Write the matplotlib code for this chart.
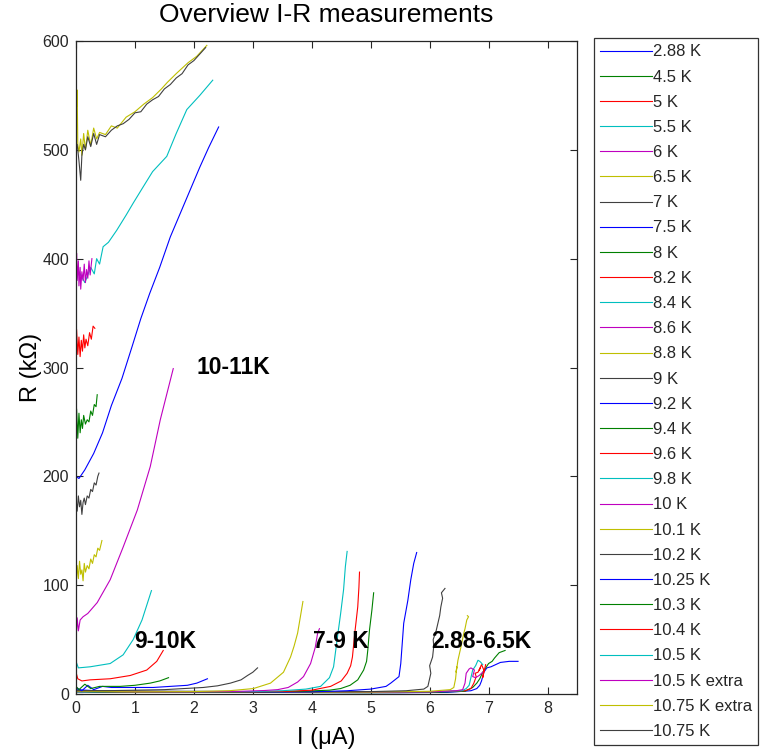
import matplotlib
matplotlib.use("Agg")
import matplotlib.pyplot as plt

plt.rcParams['font.family'] = ['Liberation Sans', 'DejaVu Sans']

# ---------------- data (I in uA, R in kOhm) ----------------
labels = ["2.88 K", "4.5 K", "5 K", "5.5 K", "6 K", "6.5 K", "7 K", "7.5 K", "8 K",
          "8.2 K", "8.4 K", "8.6 K", "8.8 K", "9 K", "9.2 K", "9.4 K", "9.6 K", "9.8 K",
          "10 K", "10.1 K", "10.2 K", "10.25 K", "10.3 K", "10.4 K", "10.5 K",
          "10.5 K extra", "10.75 K extra", "10.75 K"]

I_288 = [0.0, 0.5, 1.5, 2.5, 3.5, 4.5, 5.5, 6.3, 6.7, 6.8, 6.85, 6.88, 6.92, 6.97, 7.04, 7.12, 7.2, 7.35, 7.5]
R_288 = [4, 2.5, 2, 1.8, 1.5, 1.3, 1.2, 1.5, 3, 5, 8, 12, 20, 24, 25, 27, 29, 30, 30]
I_45 = [0.0, 1, 2, 3, 4, 5, 6, 6.6, 6.73, 6.8, 6.85, 6.9, 6.95, 7.0, 7.06, 7.1, 7.18, 7.23, 7.28]
R_45 = [3, 2, 1.8, 1.5, 1.3, 1.2, 1.5, 2.5, 6, 10, 14, 20, 24, 28, 30, 33, 38, 39, 40]
I_5 = [0.0, 1, 2, 3, 4, 5, 6, 6.6, 6.7, 6.75, 6.79, 6.77, 6.82, 6.86, 6.84, 6.88, 6.92, 6.9, 6.95]
R_5 = [3, 2, 2, 2, 1.8, 1.7, 2, 3, 5, 10, 16, 19, 20, 24, 22, 27, 22, 15, 27]
I_55 = [0, 1, 2, 3, 4, 5, 6, 6.55, 6.62, 6.67, 6.7, 6.73, 6.78, 6.82, 6.85, 6.87, 6.9]
R_55 = [3, 2.5, 2.2, 2, 1.8, 1.7, 2, 3, 5, 8, 15, 22, 26, 31, 30, 29, 27]
I_6 = [0, 1, 2, 3, 4, 5, 6, 6.45, 6.56, 6.6, 6.62, 6.67, 6.7, 6.76, 6.73, 6.78, 6.84, 6.9]
R_6 = [3, 2.5, 2.2, 2, 1.8, 1.7, 2, 3, 4, 10, 19, 23, 24, 22, 16, 15, 17, 20]
I_65 = [0, 1, 2, 3, 4, 5, 6, 6.35, 6.41, 6.44, 6.46, 6.45, 6.48, 6.53, 6.58, 6.6, 6.63, 6.66, 6.64]
R_65 = [3, 2.5, 2, 2, 1.8, 1.8, 2.5, 4, 6, 14, 25, 20, 31, 43, 56, 60, 68, 71, 72]
I_7 = [0, 1, 2, 3, 4, 5, 5.6, 5.9, 5.97, 6.02, 6.0, 6.05, 6.07, 6.06, 6.11, 6.14, 6.17, 6.19, 6.22, 6.2, 6.26]
R_7 = [3, 2.5, 2.5, 2.2, 2, 2.2, 3, 4.5, 7, 19, 26, 34, 44, 50, 58, 65, 72, 80, 88, 93, 97]
I_75 = [0, 1, 2, 3, 4, 4.6, 5.0, 5.26, 5.34, 5.48, 5.51, 5.56, 5.63, 5.68, 5.73, 5.78]
R_75 = [2, 1.5, 1.5, 1.6, 2, 3, 4.5, 7, 10, 16, 28, 65, 86, 105, 120, 130]
I_8 = [0, 1, 2, 3, 3.8, 4.3, 4.49, 4.65, 4.78, 4.88, 4.93, 4.95, 4.98, 5.02, 5.05]
R_8 = [2, 1.5, 1.5, 1.8, 2.5, 3.5, 5, 8, 13, 22, 30, 40, 59, 77, 93]
I_82 = [0, 1, 2, 3, 3.6, 4.0, 4.32, 4.5, 4.6, 4.66, 4.69, 4.73, 4.78, 4.8, 4.81]
R_82 = [2.5, 2, 2, 2, 2.5, 3.5, 7, 12, 19, 26, 34, 56, 80, 98, 112]
I_84 = [0, 1, 2, 3, 3.5, 3.9, 4.15, 4.3, 4.37, 4.43, 4.49, 4.54, 4.57, 4.6]
R_84 = [2.5, 2, 2, 2.2, 3, 4.5, 7, 15, 25, 50, 74, 96, 117, 131]
I_86 = [0, 1, 2, 2.8, 3.2, 3.42, 3.6, 3.76, 3.86, 3.98, 4.06, 4.1, 4.13]
R_86 = [2.5, 2, 2, 2.5, 3.2, 4, 6, 11, 16, 28, 43, 56, 60]
I_88 = [0, 1, 2, 2.6, 3.01, 3.3, 3.52, 3.64, 3.7, 3.76, 3.81, 3.85]
R_88 = [2.5, 2, 2.2, 3, 5, 10, 20, 34, 44, 56, 72, 85]
I_9 = [0, 0.5, 1, 1.5, 2.16, 2.4, 2.62, 2.8, 2.91, 3.0, 3.08]
R_9 = [3, 3, 3.5, 4, 6, 7.5, 10, 13, 17, 20, 24]
I_92 = [0, 0.1, 0.2, 0.3, 0.45, 0.6, 1.0, 1.31, 1.6, 1.89, 2.05, 2.23]
R_92 = [6, 3, 8, 4, 7, 6, 6, 6, 7, 8, 10, 14]
I_94 = [0, 0.05, 0.15, 0.25, 0.4, 0.75, 1.0, 1.26, 1.42, 1.57]
R_94 = [7, 4, 9, 5, 7, 7, 8, 10, 12, 15]
I_96 = [0, 0.03, 0.1, 0.24, 0.58, 0.92, 1.2, 1.37, 1.48]
R_96 = [20, 14, 12, 13, 14, 17, 22, 30, 40]
I_98 = [0, 0.04, 0.24, 0.58, 0.8, 0.97, 1.12, 1.28]
R_98 = [30, 24, 25, 28, 36, 50, 68, 95]
I_10 = [0, 0.02, 0.04, 0.07, 0.12, 0.2, 0.36, 0.58, 0.8, 1.04, 1.26, 1.43, 1.65]
R_10 = [50, 70, 58, 68, 71, 74, 84, 105, 135, 169, 209, 252, 299]
I_101 = [0, 0.02, 0.04, 0.06, 0.08, 0.1, 0.12, 0.14, 0.16, 0.19, 0.22, 0.25, 0.28, 0.31, 0.34, 0.37, 0.4, 0.44]
R_101 = [100, 118, 106, 122, 110, 114, 104, 120, 112, 118, 115, 124, 120, 128, 126, 134, 132, 141]
I_102 = [0, 0.02, 0.04, 0.06, 0.08, 0.1, 0.12, 0.14, 0.16, 0.19, 0.22, 0.25, 0.28, 0.31, 0.34, 0.37, 0.39]
R_102 = [180, 168, 182, 172, 178, 165, 176, 180, 174, 182, 180, 188, 186, 194, 192, 200, 203]
I_1025 = [0, 0.0, 0.05, 0.15, 0.3, 0.45, 0.6, 0.78, 0.95, 1.1, 1.25, 1.42, 1.6, 1.85, 2.1, 2.25, 2.42]
R_1025 = [95, 200, 198, 206, 221, 240, 265, 290, 319, 345, 368, 392, 420, 452, 484, 502, 521]
I_103 = [0, 0.01, 0.03, 0.05, 0.07, 0.09, 0.11, 0.13, 0.16, 0.19, 0.22, 0.25, 0.28, 0.31, 0.34, 0.36]
R_103 = [210, 262, 235, 258, 240, 252, 244, 256, 248, 252, 250, 260, 256, 266, 264, 275]
I_104 = [0, 0.01, 0.03, 0.05, 0.07, 0.09, 0.11, 0.13, 0.15, 0.17, 0.2, 0.23, 0.26, 0.29, 0.32]
R_104 = [300, 335, 312, 328, 310, 325, 315, 330, 318, 326, 320, 332, 326, 338, 336]
I_105 = [0.0, 0.0, 0.05, 0.15, 0.25, 0.31, 0.35, 0.40, 0.46, 0.55, 0.69, 0.85, 0.97, 1.14, 1.30, 1.54, 1.70, 1.88, 2.10, 2.32]
R_105 = [2, 380, 388, 378, 392, 386, 400, 395, 411, 415, 426, 440, 451, 466, 480, 494, 515, 537, 550, 564]
I_105x = [0, 0.01, 0.02, 0.04, 0.05, 0.07, 0.08, 0.1, 0.12, 0.14, 0.16, 0.18, 0.2, 0.22, 0.24, 0.27]
R_105x = [360, 405, 380, 398, 375, 392, 372, 388, 380, 395, 378, 390, 382, 398, 385, 400]
I_1075x = [0, 0.0, 0.01, 0.02, 0.03, 0.05, 0.08, 0.1, 0.13, 0.16, 0.2, 0.25, 0.3, 0.35, 0.4, 0.5, 0.6, 0.7,
           0.85, 1.0, 1.15, 1.3, 1.45, 1.55, 1.7, 1.9, 2.05, 2.22]
R_1075x = [500, 568, 540, 555, 505, 498, 510, 495, 515, 500, 518, 504, 520, 510, 516, 514, 522, 520,
           530, 535, 542, 548, 556, 562, 570, 580, 586, 596]
I_1075 = [0, 0.02, 0.05, 0.08, 0.1, 0.13, 0.16, 0.2, 0.25, 0.3, 0.35, 0.4, 0.5, 0.6, 0.7, 0.8, 0.9, 1.0,
          1.1, 1.2, 1.3, 1.4, 1.5, 1.6, 1.7, 1.8, 1.9, 2.0, 2.1, 2.2]
R_1075 = [500, 505, 490, 472, 495, 505, 500, 512, 503, 515, 505, 514, 512, 518, 522, 524, 528, 534,
          535, 542, 546, 549, 556, 560, 566, 570, 578, 582, 588, 594]

series_I = [I_288, I_45, I_5, I_55, I_6, I_65, I_7, I_75, I_8, I_82, I_84, I_86, I_88, I_9,
            I_92, I_94, I_96, I_98, I_10, I_101, I_102, I_1025, I_103, I_104, I_105, I_105x, I_1075x, I_1075]
series_R = [R_288, R_45, R_5, R_55, R_6, R_65, R_7, R_75, R_8, R_82, R_84, R_86, R_88, R_9,
            R_92, R_94, R_96, R_98, R_10, R_101, R_102, R_1025, R_103, R_104, R_105, R_105x, R_1075x, R_1075]

annot_text = ["10-11K", "9-10K", "7-9 K", "2.88-6.5K"]
annot_I = [2.67, 1.52, 4.49, 6.87]
annot_R = [300, 48, 48, 48]

# ---------------- style ----------------
matlab_cycle = [(0, 0, 1), (0, 0.5, 0), (1, 0, 0), (0, 0.75, 0.75),
                (0.75, 0, 0.75), (0.75, 0.75, 0), (0.25, 0.25, 0.25)]

fig = plt.figure(figsize=(7.69, 7.54), dpi=100)
ax = fig.add_axes([76/769, 1-694/754, (577-76)/769, (694-41)/754])

for k, (xi, ri, lab) in enumerate(zip(series_I, series_R, labels)):
    ax.plot(xi, ri, color=matlab_cycle[k % 7], lw=0.8, label=lab)

for t, xi, ri in zip(annot_text, annot_I, annot_R):
    ax.text(xi, ri, t, ha='center', va='center', fontsize=16.5, fontweight='bold')

ax.set_xlim(0, 8.5)
ax.set_ylim(0, 600)
ax.set_xticks(range(0, 9))
ax.set_yticks(range(0, 601, 100))
ax.tick_params(direction='in', top=True, right=True, length=5, width=0.8,
               labelsize=11.5, colors='#262626', pad=5)
for s in ax.spines.values():
    s.set_color('#262626')
    s.set_linewidth(0.9)

ax.set_title("Overview I-R measurements", fontsize=19, pad=14)
ax.set_xlabel("I (\u03bcA)", fontsize=17, labelpad=8)
ax.set_ylabel("R (k\u03a9)", fontsize=17, labelpad=0)

leg = fig.legend(loc='upper left', bbox_to_anchor=(594/769, 1-38/754),
                 fontsize=12, handlelength=3.1, handletextpad=0.05, labelspacing=0.61,
                 borderpad=0.38, borderaxespad=0, fancybox=False, frameon=True)
leg.get_frame().set_edgecolor('black')
leg.get_frame().set_linewidth(0.9)
for t in leg.get_texts():
    t.set_color('#262626')

fig.savefig("out.png", dpi=100)
